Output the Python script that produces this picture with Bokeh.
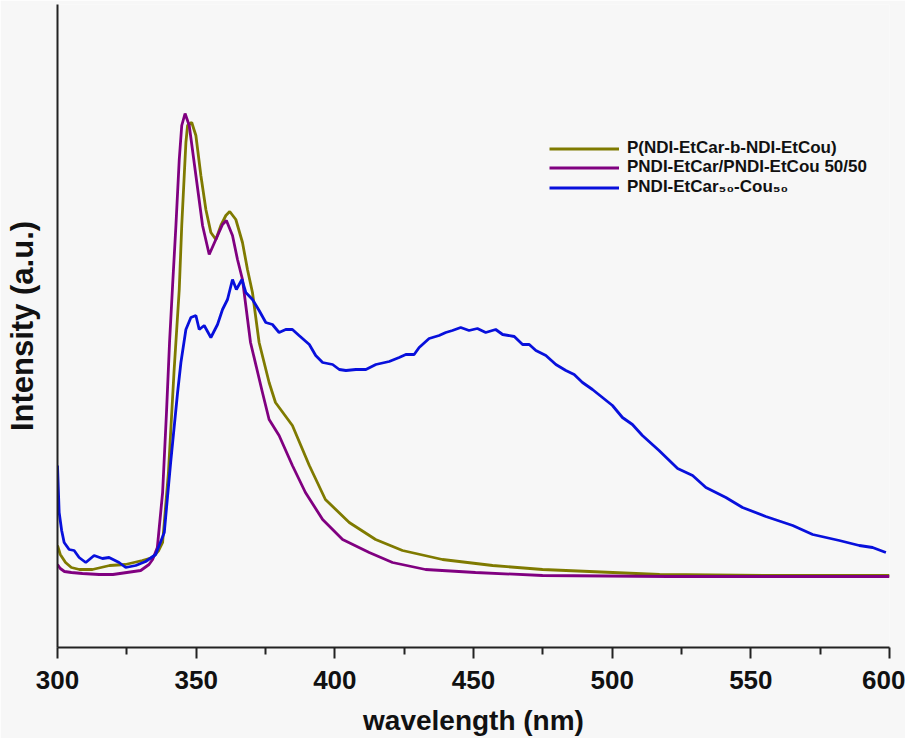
from bokeh.plotting import figure
from bokeh.models import Legend, LegendItem, FixedTicker, Range1d
from bokeh.embed import file_html
from bokeh.resources import INLINE

# ---- data ----
wl_block = [300.0, 301.0, 302.9, 305.0, 307.9, 312.6, 318.8, 324.5, 330.6, 334.3,
            336.5, 337.9, 340.0, 342.0, 343.9, 344.8, 345.7, 346.3, 346.9, 348.4,
            349.9, 351.7, 353.5, 355.3, 357.1, 358.9, 360.7, 362.1, 364.3, 366.7,
            368.5, 370.3, 372.7, 376.3, 378.6, 384.7, 390.8, 396.6, 405.2, 414.7,
            424.4, 438.8, 456.9, 474.9, 517.1, 560.0, 600.0]
int_block = [102, 93, 85, 80, 78, 78, 82, 83, 87, 90,
             97, 105, 175, 275, 358, 422, 472, 505, 522, 525,
             512, 472, 438, 415, 408, 422, 432, 436, 428, 405,
             378, 355, 305, 265, 245, 222, 182, 148, 125, 108,
             97, 88, 82, 78, 73, 72, 72]

wl_blend = [300.0, 301.0, 302.5, 305.0, 309.0, 315.0, 320.0, 325.0, 330.0, 333.0,
            334.3, 336.0, 337.9, 339.3, 340.4, 341.5, 342.7, 343.9, 344.8, 346.0,
            347.5, 349.9, 352.3, 354.7, 357.1, 359.5, 360.9, 363.1, 364.9, 366.7,
            369.6, 373.9, 376.3, 379.9, 384.7, 389.4, 395.6, 402.8, 412.4, 420.8,
            432.7, 450.7, 474.9, 520.0, 560.0, 600.0]
int_blend = [83, 79, 76, 75, 74, 73, 73, 75, 77, 83,
             88, 100, 155, 235, 305, 362, 422, 488, 522, 534,
             522, 472, 422, 393, 408, 423, 427, 412, 388, 368,
             305, 255, 228, 212, 182, 155, 128, 108, 95, 85,
             78, 75, 72, 71, 71, 71]

wl_random = [300.0, 300.6, 301.5, 302.4, 304.2, 306.0, 307.8, 310.2, 313.2, 316.2,
             318.6, 322.2, 324.6, 328.2, 331.8, 335.4, 338.5, 340.8, 343.3, 344.5,
             346.3, 348.1, 349.9, 351.1, 352.9, 355.3, 357.7, 359.5, 361.3, 363.1,
             364.5, 366.5, 367.9, 370.3, 372.7, 375.1, 377.5, 379.9, 382.3, 384.7,
             387.1, 390.8, 393.1, 395.6, 399.2, 401.6, 404.0, 407.6, 411.2, 414.8,
             419.6, 423.2, 425.6, 428.6, 430.4, 434.0, 437.6, 440.0, 442.4, 445.4,
             448.4, 451.4, 454.4, 458.0, 460.5, 464.7, 467.7, 470.1, 472.5, 476.1,
             479.7, 483.3, 486.3, 489.3, 492.9, 496.5, 500.1, 503.7, 507.3, 510.9,
             516.9, 523.6, 529.0, 533.8, 541.0, 547.0, 555.4, 565.1, 572.3, 581.9,
             589.1, 593.9, 598.7]
int_random = [182, 135, 117, 105, 98, 97, 90, 85, 92, 89,
              90, 85, 80, 82, 86, 93, 115, 185, 255, 285,
              318, 330, 332, 318, 322, 310, 323, 338, 348, 368,
              358, 368, 355, 348, 337, 325, 323, 315, 318, 318,
              312, 303, 292, 285, 283, 278, 277, 278, 278, 283,
              286, 290, 293, 293, 300, 309, 312, 315, 317, 320,
              317, 319, 315, 318, 313, 311, 303, 303, 297, 292,
              283, 277, 273, 265, 258, 250, 242, 230, 223, 212,
              197, 179, 172, 160, 150, 140, 131, 122, 113, 107,
              102, 100, 95]

series_names = ["P(NDI-EtCar-b-NDI-EtCou)",
                "PNDI-EtCar/PNDI-EtCou 50/50",
                "PNDI-EtCar\u2085\u2080-Cou\u2085\u2080"]
series_colors = ["#7f7a00", "#800080", "#0810dc"]
x_ticks = [300, 350, 400, 450, 500, 550, 600]
x_minor = [325, 375, 425, 475, 525, 575]

FONT = "Liberation Sans"
BG = "#f7f7f7"

p = figure(width=905, height=738, output_backend="svg", toolbar_location=None,
           x_range=Range1d(300, 600), y_range=Range1d(0, 643),
           min_border_left=57, min_border_right=16, min_border_top=4,
           min_border_bottom=91)
p.background_fill_color = BG
p.border_fill_color = BG
p.outline_line_color = None
p.xgrid.visible = False
p.ygrid.visible = False

r1 = p.line(wl_block, int_block, line_color=series_colors[0], line_width=2.8)
r2 = p.line(wl_blend, int_blend, line_color=series_colors[1], line_width=2.8)
r3 = p.line(wl_random, int_random, line_color=series_colors[2], line_width=2.8)

xa = p.xaxis[0]
xa.ticker = FixedTicker(ticks=x_ticks, minor_ticks=x_minor)
xa.axis_line_width = 2
xa.axis_line_color = "#222222"
xa.major_tick_line_width = 2
xa.minor_tick_line_width = 2
xa.major_tick_line_color = "#222222"
xa.minor_tick_line_color = "#222222"
xa.major_tick_in = 0
xa.major_tick_out = 11
xa.minor_tick_in = 0
xa.minor_tick_out = 7
xa.major_label_text_font = FONT
xa.major_label_text_font_style = "bold"
xa.major_label_text_font_size = "26px"
xa.major_label_text_color = "#111111"
xa.major_label_standoff = 12
xa.axis_label = "wavelength (nm)"
xa.axis_label_text_font = FONT
xa.axis_label_text_font_style = "bold"
xa.axis_label_text_font_size = "28px"
xa.axis_label_text_color = "#111111"
xa.axis_label_standoff = 13

ya = p.yaxis[0]
ya.ticker = FixedTicker(ticks=[])
ya.axis_line_width = 2
ya.axis_line_color = "#222222"
ya.major_tick_out = 0
ya.major_tick_in = 0
ya.major_label_text_font_size = "0px"
ya.axis_label = "Intensity (a.u.)"
ya.axis_label_text_font = FONT
ya.axis_label_text_font_style = "bold"
ya.axis_label_text_font_size = "31px"
ya.axis_label_text_color = "#111111"
ya.axis_label_standoff = 18

renderers = [r1, r2, r3]
legend_y = [489, 470, 450]
for name, rend, ly in zip(series_names, renderers, legend_y):
    lg = Legend(items=[LegendItem(label=name, renderers=[rend])], location=(492, ly))
    lg.label_text_font = FONT
    lg.label_text_font_style = "bold"
    lg.label_text_font_size = "17px"
    lg.label_text_color = "#111111"
    lg.glyph_width = 70
    lg.glyph_height = 17
    lg.label_height = 17
    lg.label_standoff = 8
    lg.padding = 0
    lg.margin = 0
    lg.background_fill_alpha = 0
    lg.border_line_alpha = 0
    p.add_layout(lg)

open("out.html", "w").write(file_html(p, INLINE))
